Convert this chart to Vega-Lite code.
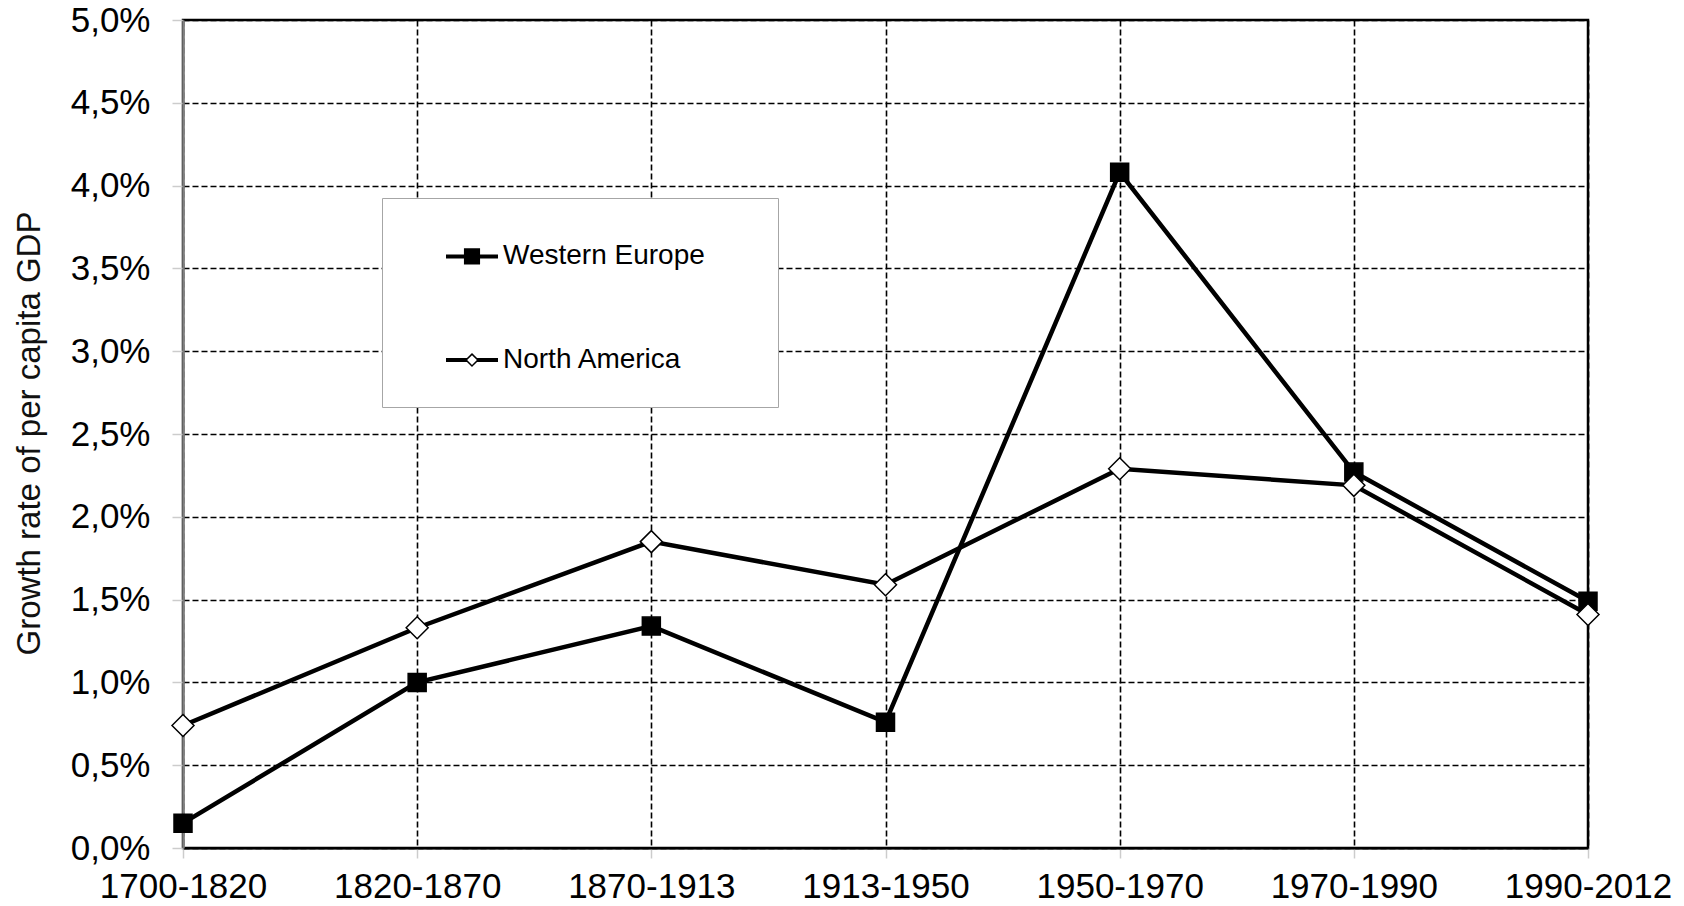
{
  "$schema": "https://vega.github.io/schema/vega-lite/v6.json",
  "width": 1405,
  "height": 828,
  "autosize": {"type": "none"},
  "padding": {"left": 183, "top": 20, "right": 96, "bottom": 58},
  "background": "white",
  "config": {
    "font": "Liberation Sans",
    "view": {"stroke": "black", "strokeWidth": 2.5},
    "axis": {"labelFont": "Liberation Sans", "titleFont": "Liberation Sans"}
  },
  "data": {
    "values": [
      {"period": "1700-1820", "series": "Western Europe", "growth": 0.15},
      {"period": "1820-1870", "series": "Western Europe", "growth": 1.0},
      {"period": "1870-1913", "series": "Western Europe", "growth": 1.34},
      {"period": "1913-1950", "series": "Western Europe", "growth": 0.76},
      {"period": "1950-1970", "series": "Western Europe", "growth": 4.08},
      {"period": "1970-1990", "series": "Western Europe", "growth": 2.27},
      {"period": "1990-2012", "series": "Western Europe", "growth": 1.49},
      {"period": "1700-1820", "series": "North America", "growth": 0.74},
      {"period": "1820-1870", "series": "North America", "growth": 1.33},
      {"period": "1870-1913", "series": "North America", "growth": 1.85},
      {"period": "1913-1950", "series": "North America", "growth": 1.59},
      {"period": "1950-1970", "series": "North America", "growth": 2.29},
      {"period": "1970-1990", "series": "North America", "growth": 2.19},
      {"period": "1990-2012", "series": "North America", "growth": 1.41}
    ]
  },
  "encoding": {
    "x": {
      "field": "period",
      "type": "ordinal",
      "scale": {"type": "point", "padding": 0},
      "sort": null,
      "axis": {
        "title": null,
        "labelAngle": 0,
        "labelFontSize": 35,
        "labelColor": "black",
        "labelPadding": 11,
        "tickSize": 10,
        "tickColor": "#cccccc",
        "tickWidth": 1.5,
        "domainColor": "black",
        "domainWidth": 2,
        "grid": true,
        "gridColor": "black",
        "gridDash": [6, 3],
        "gridWidth": 1.6
      }
    },
    "y": {
      "field": "growth",
      "type": "quantitative",
      "scale": {"domain": [0, 5], "nice": false, "zero": true},
      "axis": {
        "title": "Growth rate of per capita GDP",
        "titleFontSize": 33,
        "titleFontWeight": "normal",
        "titleColor": "#111111",
        "titleAngle": -90,
        "titleX": -137,
        "titleY": 413,
        "titleAlign": "center",
        "titleBaseline": "bottom",
        "values": [0, 0.5, 1, 1.5, 2, 2.5, 3, 3.5, 4, 4.5, 5],
        "labelExpr": "replace(format(datum.value, '.1f'), '.', ',') + '%'",
        "labelFontSize": 35,
        "labelColor": "black",
        "labelPadding": 22,
        "tickSize": 11,
        "tickColor": "#cccccc",
        "tickWidth": 1.5,
        "domainColor": "#808080",
        "domainWidth": 2.5,
        "grid": true,
        "gridColor": "black",
        "gridDash": [6, 3],
        "gridWidth": 1.6
      }
    }
  },
  "layer": [
    {
      "mark": {"type": "line", "color": "black", "strokeWidth": 4.5},
      "encoding": {
        "detail": {"field": "series", "type": "nominal"}
      }
    },
    {
      "mark": {"type": "point", "filled": false, "opacity": 1, "stroke": "black", "strokeWidth": 1.5},
      "encoding": {
        "shape": {
          "condition": {"test": "datum.series === 'Western Europe'", "value": "square"},
          "value": "diamond"
        },
        "size": {
          "condition": {"test": "datum.series === 'Western Europe'", "value": 324},
          "value": 484
        },
        "fill": {
          "condition": {"test": "datum.series === 'Western Europe'", "value": "black"},
          "value": "white"
        }
      }
    },
    {
      "transform": [{"filter": "false"}],
      "mark": {"type": "point", "filled": true, "color": "black", "opacity": 1, "strokeWidth": 0},
      "encoding": {
        "shape": {
          "field": "series",
          "type": "nominal",
          "scale": {
            "domain": ["Western Europe", "North America"],
            "range": [
              "M-1,-0.077H1V0.077H-1Z M-0.31,-0.31H0.31V0.31H-0.31Z",
              "M-1,-0.077H-0.2V0.077H-1Z M0.2,-0.077H1V0.077H0.2Z M0,-0.27L0.27,0L0,0.27L-0.27,0Z M0,-0.188L-0.188,0L0,0.188L0.188,0Z"
            ]
          },
          "legend": {
            "title": " ",
            "titleOrient": "right",
            "titleFontSize": 10,
            "titlePadding": 41,
            "orient": "none",
            "legendX": 199,
            "legendY": 178,
            "padding": 32.4,
            "rowPadding": 63.7,
            "strokeColor": "#a6a6a6",
            "fillColor": "white",
            "symbolSize": 2704,
            "symbolStrokeWidth": 0,
            "symbolFillColor": "black",
            "symbolOffset": 31.6,
            "symbolOpacity": 1,
            "labelFont": "Liberation Sans",
            "labelFontSize": 28,
            "labelColor": "black",
            "labelOffset": 5,
            "labelLimit": 400
          }
        }
      }
    }
  ]
}
